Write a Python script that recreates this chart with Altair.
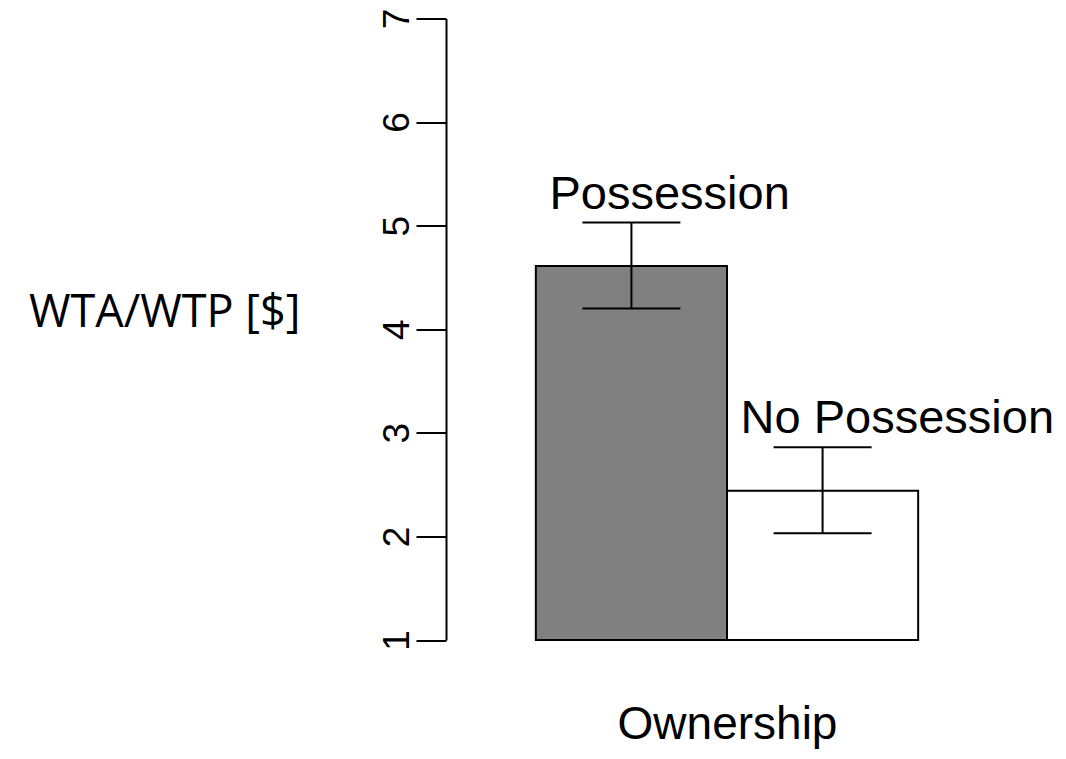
import altair as alt
import pandas as pd

conditions = ["Possession", "No Possession"]
means = [4.61, 2.44]
lower = [4.20, 2.03]
upper = [5.03, 2.86]
fills = ["#808080", "#ffffff"]
y_ticks = [1, 2, 3, 4, 5, 6, 7]
base = [1, 1]

df = pd.DataFrame({
    "condition": conditions,
    "mean": means,
    "lower": lower,
    "upper": upper,
    "base": base,
})

x_enc = alt.X(
    "condition:N",
    sort=conditions,
    scale=alt.Scale(paddingInner=0, paddingOuter=0.47),
    axis=alt.Axis(
        title="Ownership", labels=False, ticks=False, domain=False,
        titleFont="Liberation Sans", titleFontSize=46, titleFontWeight="normal",
        titleColor="black", titleY=98, titleBaseline="alphabetic",
    ),
)

y_scale = alt.Scale(domain=[1, 7], nice=False, zero=False)
y_axis = alt.Axis(
    title="WTA/WTP [$]", values=y_ticks, grid=False,
    domainColor="black", domainWidth=2, tickColor="black", tickWidth=2, tickSize=30,
    labelAngle=270, labelFont="Liberation Sans", labelFontSize=37, labelColor="black",
    labelAlign="center", labelBaseline="bottom", labelPadding=0,
    labelOverlap=False, labelBound=False, labelFlush=False,
    titleFont="Open Sans", titleFontSize=45, titleFontWeight="normal", titleColor="black",
    titleAngle=0, titleAlign="right", titleBaseline="middle", titleX=-146, titleY=293.5,
)


def Y(field):
    return alt.Y(field, scale=y_scale, axis=y_axis)


basec = alt.Chart(df)

bars = basec.mark_bar(stroke="black", strokeWidth=2).encode(
    x=x_enc,
    y=Y("mean:Q"),
    y2="base:Q",
    fill=alt.Fill("condition:N", scale=alt.Scale(domain=conditions, range=fills), legend=None),
)

rule = basec.mark_rule(color="black", strokeWidth=2).encode(
    x=x_enc, y=Y("lower:Q"), y2="upper:Q"
)

cap_lo = basec.mark_tick(color="black", thickness=2, size=98, opacity=1).encode(x=x_enc, y=Y("lower:Q"))
cap_hi = basec.mark_tick(color="black", thickness=2, size=98, opacity=1).encode(x=x_enc, y=Y("upper:Q"))

labels = basec.mark_text(
    align="left", baseline="alphabetic", dx=-82, dy=-14,
    font="Liberation Sans", fontSize=47, color="black",
).encode(x=x_enc, y=Y("upper:Q"), text="condition:N")

chart = alt.layer(bars, rule, cap_lo, cap_hi, labels).properties(
    width=562,
    height=621.5,
    padding={"left": 438, "top": 10.5, "right": 50, "bottom": 110},
    autosize=alt.AutoSizeParams(type="none"),
    background="white",
).configure_view(stroke=None)

chart.save("out.html", embed_options={"renderer": "svg", "actions": False})
